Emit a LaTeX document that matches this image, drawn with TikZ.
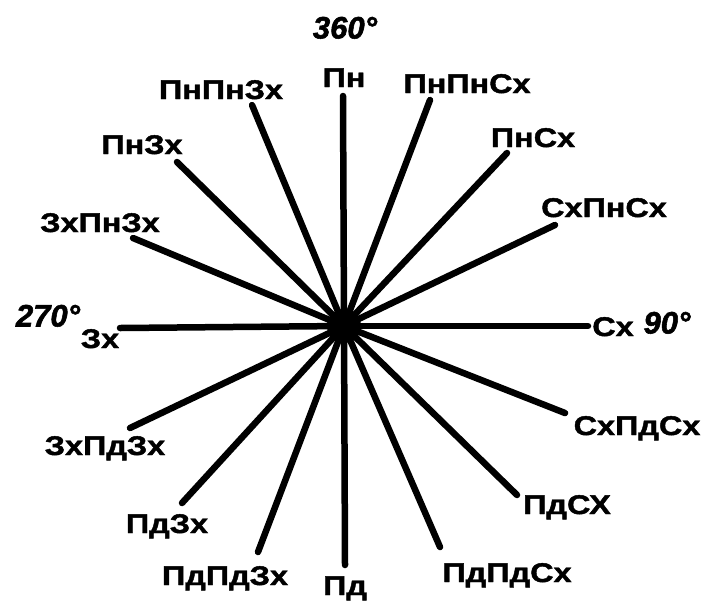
\documentclass[tikz,border=0pt]{standalone}
\usepackage{fontspec}
\newfontfamily\labfont[FakeStretch=1.2,FakeBold=1.6]{Liberation Sans}
\newfontfamily\degfont[FakeBold=1.8]{Liberation Sans}
\begin{document}
\begin{tikzpicture}[x=1pt,y=-1pt,
  ray/.style={line width=6.5pt, line cap=round},
  lab/.style={font=\labfont\bfseries\fontsize{27}{30}\selectfont, inner sep=0pt, text height=20pt, text depth=0pt, anchor=center},
  deg/.style={font=\degfont\bfseries\itshape\fontsize{31}{34}\selectfont, inner sep=0pt, text height=23pt, text depth=0pt, anchor=center}]
\useasboundingbox (0,0) rectangle (708,603);
\coordinate (c) at (344,326);
% ray ends
\coordinate (eN)    at (343,96);
\coordinate (eNNE)  at (430,100);
\coordinate (eNE)   at (507,153);
\coordinate (eENE)  at (555,225);
\coordinate (eE)    at (588,326);
\coordinate (eESE)  at (565,413);
\coordinate (eSE)   at (517,495);
\coordinate (eSSE)  at (440,547);
\coordinate (eS)    at (345,565);
\coordinate (eSSW)  at (258,552);
\coordinate (eSW)   at (182,503);
\coordinate (eWSW)  at (130,428);
\coordinate (eW)    at (120,328);
\coordinate (eWNW)  at (133,238);
\coordinate (eNW)   at (177,162);
\coordinate (eNNW)  at (252,105);
\foreach \e in {eN,eNNE,eNE,eENE,eE,eESE,eSE,eSSE,eS,eSSW,eSW,eWSW,eW,eWNW,eNW,eNNW}
  \draw[ray] (c) -- (\e);
\node[circle, fill=black, minimum size=34pt, inner sep=0pt] (hub) at (c) {};
% labels
\node[lab] (lN)    at (344,77)  {Пн};
\node[lab] (lNNE)  at (467,83)  {ПнПнСх};
\node[lab] (lNE)   at (533,137) {ПнСх};
\node[lab] (lENE)  at (604,207) {СхПнСх};
\node[lab] (lE)    at (613,326) {Сх};
\node[lab] (lESE)  at (637,425) {СхПдСх};
\node[lab] (lSE)   at (567,504) {ПдСХ};
\node[lab] (lSSE)  at (507,572) {ПдПдСх};
\node[lab] (lS)    at (345,585) {Пд};
\node[lab] (lSSW)  at (225,575) {ПдПдЗх};
\node[lab] (lSW)   at (167,523) {ПдЗх};
\node[lab] (lWSW)  at (105,445) {ЗхПдЗх};
\node[lab] (lW)    at (100,338) {Зх};
\node[lab] (lWNW)  at (100,222) {ЗхПнЗх};
\node[lab] (lNW)   at (142,144) {ПнЗх};
\node[lab] (lNNW)  at (221,89)  {ПнПнЗх};
% degrees
\node[deg] (d360) at (345,27)  {360°};
\node[deg] (d90)  at (667,322) {90°};
\node[deg] (d270) at (48,315)  {270°};
\end{tikzpicture}
\end{document}
